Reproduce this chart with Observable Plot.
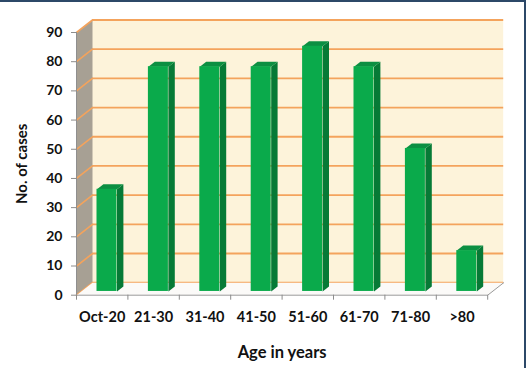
<!DOCTYPE html>
<html>
<head>
<meta charset="utf-8">
<script src="https://cdn.jsdelivr.net/npm/d3@7"></script>
<script src="https://cdn.jsdelivr.net/npm/@observablehq/plot@0.6"></script>
<style>
  html, body { margin: 0; padding: 0; background: #fff; }
  #wrap { position: relative; width: 526px; height: 368px; overflow: hidden; }
  #border { position: absolute; left: 0; top: 0; width: 526px; height: 368px; box-sizing: border-box;
            border-top: 2px solid #2c4868; border-right: 2px solid #2c4868; pointer-events: none; }
  #wrap svg { position: absolute; left: 0; top: 0; }
  #wrap svg g[aria-label="y-axis tick label"] text { font-size: 14px; font-weight: bold; }
  #wrap svg g[aria-label="x-axis tick label"] text { font-size: 14.5px; font-weight: bold; }
</style>
</head>
<body>
<div id="wrap"><div id="border"></div></div>
<script>
// ---- data ----
const categories = ["Oct-20", "21-30", "31-40", "41-50", "51-60", "61-70", "71-80", ">80"];
const cases = [35, 77, 77, 77, 84, 77, 49, 14];
const yTicks = [0, 10, 20, 30, 40, 50, 60, 70, 80, 90];

// ---- layout ----
const W = 526, H = 368;
const mL = 76, mR = 38.8, mT = 32, mB = 73.3;
const yMax = 90, nCat = categories.length;
const pxX = (W - mL - mR) / nCat;       // px per x unit
const pxY = (H - mT - mB) / yMax;       // px per y unit
const depthPx = [16, -12.5];            // full depth of the box
const DXu = depthPx[0] / pxX, DYu = -depthPx[1] / pxY;

// bars
const barHalf = 10 / pxX;
const barFront = 0.3, barDepth = 0.4;
const bdx = barDepth * DXu, bdy = barDepth * DYu;

const bars = categories.map((c, i) => ({c, i, v: cases[i], L: i + 0.5 - barHalf, R: i + 0.5 + barHalf}));

const sidePts = bars.flatMap(b => [
  {z: b.c, x: b.R, y: 0}, {z: b.c, x: b.R, y: b.v},
  {z: b.c, x: b.R + bdx, y: b.v + bdy}, {z: b.c, x: b.R + bdx, y: bdy}
]);
const topPts = bars.flatMap(b => [
  {z: b.c, x: b.L, y: b.v}, {z: b.c, x: b.R, y: b.v},
  {z: b.c, x: b.R + bdx, y: b.v + bdy}, {z: b.c, x: b.L + bdx, y: b.v + bdy}
]);

const sideWall = [{x: 0, y: 0}, {x: 0, y: yMax}, {x: DXu, y: yMax + DYu}, {x: DXu, y: DYu}];
const floor = [{x: 0, y: 0}, {x: nCat, y: 0}, {x: nCat + DXu, y: DYu}, {x: DXu, y: DYu}];
const sideGrid = yTicks.flatMap(t => [{z: t, x: 0, y: t}, {z: t, x: DXu, y: t + DYu}]);
const floorEdge = [{x: nCat, y: 0}, {x: nCat + DXu, y: DYu}];

const offX = barFront * depthPx[0], offY = barFront * depthPx[1];

const cream = "#fdf3da", orange = "#f4a35c", grey = "#a7a094";
const font = "Lato, 'Open Sans', sans-serif";
const ink = "#111111";

const chart = Plot.plot({
  width: W, height: H,
  marginLeft: mL, marginRight: mR, marginTop: mT, marginBottom: mB,
  style: {fontFamily: font, fontSize: "14px", fontWeight: "bold", background: "transparent", overflow: "visible"},
  x: {domain: [0, nCat], axis: null},
  y: {domain: [0, yMax], axis: null},
  marks: [
    // back wall
    Plot.rect([0], {x1: 0, x2: nCat, y1: 0, y2: yMax, dx: depthPx[0], dy: depthPx[1], fill: cream}),
    Plot.ruleY(yTicks, {x1: 0, x2: nCat, dx: depthPx[0], dy: depthPx[1], stroke: orange, strokeWidth: 1.8}),
    // side wall
    Plot.line(sideWall, {x: "x", y: "y", fill: grey, stroke: "none", curve: "linear"}),
    Plot.line(sideGrid, {x: "x", y: "y", z: "z", stroke: orange, strokeWidth: 1.6}),
    // floor
    Plot.line(floor, {x: "x", y: "y", fill: "#fbfaf8", stroke: "none"}),
    Plot.line(floorEdge, {x: "x", y: "y", stroke: "#9a9a9a", strokeWidth: 1}),
    Plot.ruleY([0], {x1: 0, x2: nCat, stroke: "#9a9a9a", strokeWidth: 1}),
    Plot.ruleX([0], {y1: 0, y2: yMax, stroke: "#8f8f8f", strokeWidth: 1}),
    // bars
    Plot.line(sidePts, {x: "x", y: "y", z: "z", fill: "#067a36", stroke: "none", dx: offX, dy: offY}),
    Plot.line(topPts, {x: "x", y: "y", z: "z", fill: "#0c8f42", stroke: "none", dx: offX, dy: offY}),
    Plot.rect(bars, {x1: "L", x2: "R", y1: 0, y2: "v", fill: "#0aaa4b", dx: offX, dy: offY}),
    // axes
    Plot.axisY({ticks: yTicks, tickSize: 5, tickPadding: 9, fontSize: 14, fontWeight: "bold",
                fill: ink, stroke: "#8c8c8c", label: null}),
    Plot.axisX({ticks: d3.range(nCat + 1), tickSize: 5, tickFormat: () => "", stroke: "#8c8c8c", label: null}),
    Plot.axisX({ticks: d3.range(nCat).map(i => i + 0.5), tickSize: 0, tickPadding: 17,
                tickFormat: d => categories[Math.floor(d)], fontSize: 14.5, fontWeight: "bold",
                fill: ink, label: null}),
    // titles
    Plot.text(["Age in years"], {frameAnchor: "bottom", textAnchor: "middle", lineAnchor: "middle",
              dy: 57.8, text: d => d, fontSize: 16.5, fontWeight: "bold", fill: ink}),
    Plot.text(["No. of cases"], {frameAnchor: "left", textAnchor: "middle", lineAnchor: "middle",
              dx: -54, rotate: -90, text: d => d, fontSize: 15, fontWeight: "bold", fill: ink})
  ]
});
document.getElementById("wrap").prepend(chart);
</script>
</body>
</html>
